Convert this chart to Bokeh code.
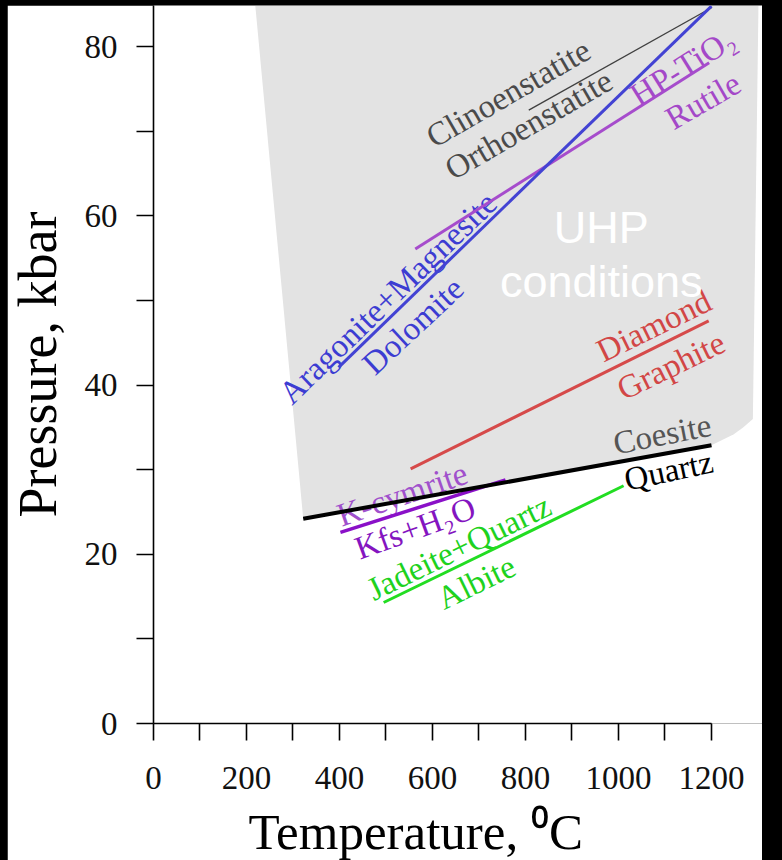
from bokeh.plotting import figure
from bokeh.models import Range1d, FixedTicker, Title, ColumnDataSource, GlobalInlineStyleSheet
from bokeh.core.properties import value
from bokeh.embed import file_html
from bokeh.resources import INLINE

# ---------------- data ----------------
temp_ticks = [0, 200, 400, 600, 800, 1000, 1200]
temp_minor = [100, 300, 500, 700, 900, 1100]
press_ticks = [0, 20, 40, 60, 80]
press_minor = [10, 30, 50, 70]

# UHP field (grey area)
uhp_T = [219, 1301, 1289, 1268, 1248, 1200, 322]
uhp_P = [84.8, 84.8, 36.0, 35.0, 34.2, 32.9, 24.2]

# reaction boundaries
coesite_T = [322, 1200]
coesite_P = [24.2, 32.9]
albite_T = [495, 1011]
albite_P = [14.3, 28.1]
kfs_T = [402, 757]
kfs_P = [22.6, 28.8]
graphite_T = [553, 1194]
graphite_P = [30.1, 47.6]
dolomite_T = [398, 1200]
dolomite_P = [42.1, 84.8]
rutile_T = [563, 1195]
rutile_P = [56.1, 78.1]
enstatite_T = [807, 1200]
enstatite_P = [72.5, 84.6]

# phase labels
label_text = ["Clinoenstatite", "Orthoenstatite", "HP-TiO\u2082", "Rutile",
              "Aragonite+Magnesite", "Dolomite", "Diamond", "Graphite",
              "Coesite", "Quartz", "K-cymrite", "Kfs+H\u2082O",
              "Jadeite+Quartz", "Albite"]
label_T = [763, 807, 1138, 1182, 504, 558, 1076, 1113, 1094, 1108, 535, 563, 657, 694]
label_P = [74.5, 70.8, 77.6, 73.6, 50.3, 47.0, 47.0, 42.3, 34.2, 29.9, 27.1, 23.1, 20.8, 16.7]
label_angle = [30, 30, 32, 30, 44, 43, 26, 26, 11, 12, 19, 20, 26, 26]
label_color = ["#4a4a4a", "#4a4a4a", "#a448c8", "#a448c8",
               "#3c3cd2", "#3c3cd2", "#d24646", "#d24646",
               "#555555", "#000000", "#a050cc", "#8414c0",
               "#1ed21e", "#1ed21e"]

uhp_text = ["UHP", "conditions"]
uhp_text_T = [963, 963]
uhp_text_P = [58.6, 52.3]

x_title = "Temperature, \u2070C"
y_title = "Pressure, kbar"

# ---------------- figure ----------------
SERIF = "Liberation Serif"

p = figure(width=755, height=855, output_backend="svg", toolbar_location=None,
           x_range=Range1d(0, 1309.7), y_range=Range1d(0, 84.87),
           min_border_left=146, min_border_right=0, min_border_top=0,
           min_border_bottom=137)
p.stylesheets = [GlobalInlineStyleSheet(
    css="html, body { background-color: #000000 !important; } "
        "body { padding: 5px 0 0 7px !important; }")]
p.background_fill_color = "white"
p.border_fill_color = "white"
p.outline_line_color = None
p.grid.visible = False

for ax in (p.xaxis[0], p.yaxis[0]):
    ax.axis_line_color = "black"
    ax.axis_line_width = 1.6
    ax.major_tick_line_width = 1.6
    ax.minor_tick_line_width = 1.6
    ax.major_tick_line_color = "black"
    ax.minor_tick_line_color = "black"
    ax.major_tick_in = 0
    ax.major_tick_out = 17
    ax.minor_tick_in = 0
    ax.minor_tick_out = 17
    ax.major_label_text_font = SERIF
    ax.major_label_text_font_size = "33px"
    ax.major_label_text_color = "#111111"

p.xaxis[0].ticker = FixedTicker(ticks=temp_ticks, minor_ticks=temp_minor)
p.yaxis[0].ticker = FixedTicker(ticks=press_ticks, minor_ticks=press_minor)
p.xaxis[0].bounds = (0, 1200)
p.xaxis[0].major_label_standoff = 26
p.yaxis[0].major_label_standoff = 19

# grey UHP field
p.patch(uhp_T, uhp_P, fill_color="#e3e3e3", line_color=None)

# labels (drawn under the boundary lines)
src = ColumnDataSource(dict(x=label_T, y=label_P, text=label_text,
                            angle=label_angle, color=label_color))
p.text(x="x", y="y", text="text", angle="angle", angle_units="deg",
       text_color="color", source=src, text_font=value(SERIF),
       text_font_size="33px", text_align="center", text_baseline="middle")

p.text(x=uhp_text_T, y=uhp_text_P, text=uhp_text, text_color="white",
       text_font=value("Liberation Sans"), text_font_size="45px",
       text_align="center", text_baseline="alphabetic")

# boundaries
p.line(enstatite_T, enstatite_P, line_color="#404040", line_width=1.3)
p.line(rutile_T, rutile_P, line_color="#a64ccc", line_width=3)
p.line(dolomite_T, dolomite_P, line_color="#4343d3", line_width=3)
p.line(graphite_T, graphite_P, line_color="#d64a4a", line_width=3)
p.line(albite_T, albite_P, line_color="#22dd22", line_width=3)
p.line(kfs_T, kfs_P, line_color="#8a10c8", line_width=3.5)
p.line(coesite_T, coesite_P, line_color="black", line_width=4)

# axis titles (a thin spacer between axis and title pushes the title outward)
p.add_layout(Title(text=" ", text_font_size="1px", standoff=9), "left")
p.add_layout(Title(text=y_title, align="center", vertical_align="top", standoff=0,
                   text_font=SERIF, text_font_size="54px",
                   text_font_style="normal", text_color="black"), "left")
p.add_layout(Title(text=" ", text_font_size="1px", standoff=7), "below")
p.add_layout(Title(text=x_title, align="left", offset=95, vertical_align="bottom",
                   standoff=0, text_font=SERIF, text_font_size="51px",
                   text_font_style="normal", text_color="black"), "below")

open("out.html", "w").write(file_html(p, INLINE))
